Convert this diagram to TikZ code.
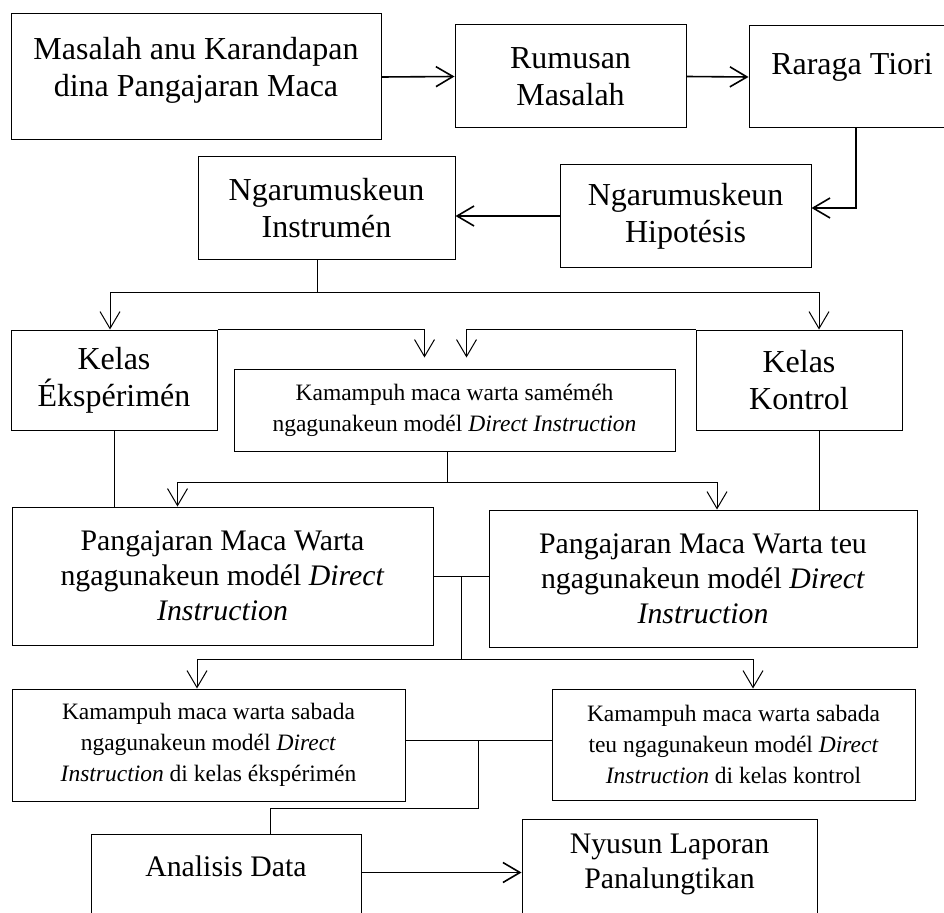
\documentclass[tikz,border=0pt]{standalone}
\usepackage{fontspec}
\setmainfont{Liberation Serif}
\usetikzlibrary{arrows.meta,calc}

\newcommand{\hurufgede}{\fontsize{32}{37}\selectfont}
\newcommand{\hurufsedeng}{\fontsize{29.8}{35}\selectfont}
\newcommand{\hurufleutik}{\fontsize{23.5}{31}\selectfont}

\tikzset{
    kotak/.style={draw, line width=1pt, inner sep=0pt, align=center},
    teks/.style={inner sep=0pt, align=center},
    garis/.style={line width=1pt},
    panah/.style={line width=1pt, -{Straight Barb[length=17pt,width=20pt,line width=1pt]}},
    panahgede/.style={line width=1.6pt, -{Straight Barb[length=17pt,width=20pt,line width=1.6pt]}},
}

\begin{document}
\begin{tikzpicture}[x=1pt, y=-1pt]
    \useasboundingbox (0,0) rectangle (944,912);
    %
    % baris kahiji
    \node[kotak, minimum width=370pt, minimum height=126pt] (masalah) at (196,77) {};
    \node[teks, font=\hurufgede] (masalahteks) at ([yshift=7pt]masalah.center) {Masalah anu Karandapan\\dina Pangajaran Maca};
    \node[kotak, font=\hurufgede, minimum width=231pt, minimum height=103pt] (rumusan) at (570.5,76.5) {Rumusan\\Masalah};
    \node[kotak, minimum width=206pt, minimum height=102pt] (tiori) at (852,77) {};
    \node[teks, font=\hurufgede] (tioriteks) at ([yshift=10pt]tiori.center) {Raraga Tiori};
    %
    % baris kadua
    \node[kotak, font=\hurufgede, minimum width=257pt, minimum height=102pt] (instrumen) at (326.5,208) {Ngarumuskeun\\Instrumén};
    \node[kotak, font=\hurufgede, minimum width=251pt, minimum height=102pt] (hipotesis) at (685.5,216) {Ngarumuskeun\\Hipotésis};
    %
    % kelas
    \node[kotak, font=\hurufgede, minimum width=206pt, minimum height=100pt] (kelasE) at (114,380) {Kelas\\Ékspérimén};
    \node[kotak, font=\hurufgede, minimum width=206pt, minimum height=100pt] (kelasK) at (799,380) {Kelas\\Kontrol};
    \node[kotak, font=\hurufleutik, minimum width=441pt, minimum height=82pt] (samemeh) at (454.5,410) {Kamampuh maca warta saméméh\\ngagunakeun modél \textit{Direct Instruction}};
    %
    % pangajaran
    \node[kotak, font=\hurufsedeng, minimum width=421pt, minimum height=138pt] (ajarE) at (222.5,576) {Pangajaran Maca Warta\\ngagunakeun modél \textit{Direct}\\\textit{Instruction}};
    \node[kotak, font=\hurufsedeng, minimum width=428pt, minimum height=137pt] (ajarK) at (703,578.5) {Pangajaran Maca Warta teu\\ngagunakeun modél \textit{Direct}\\\textit{Instruction}};
    %
    % sabada
    \node[kotak, font=\hurufleutik, minimum width=393pt, minimum height=112pt] (sabadaE) at (208.5,745) {Kamampuh maca warta sabada\\ngagunakeun modél \textit{Direct}\\\textit{Instruction} di kelas ékspérimén};
    \node[kotak, font=\hurufleutik, minimum width=363pt, minimum height=111pt] (sabadaK) at (733.5,744.5) {Kamampuh maca warta sabada\\teu ngagunakeun modél \textit{Direct}\\\textit{Instruction} di kelas kontrol};
    %
    % baris panungtung
    \node[kotak, minimum width=270pt, minimum height=126pt] (analisis) at (226,897) {};
    \node[teks, font=\hurufsedeng] (analisisteks) at ([yshift=-33pt]analisis.north) {Analisis Data};
    \node[kotak, minimum width=295pt, minimum height=141pt] (nyusun) at (669.5,889.5) {};
    \node[teks, font=\hurufsedeng] (nyusunteks) at ([yshift=-46pt]nyusun.north) {Nyusun Laporan\\Panalungtikan};
    %
    \draw[panahgede] (masalah.east) -- (rumusan.west);
    \draw[panahgede] (rumusan.east) -- (tiori.west);
    \draw[panahgede] ([xshift=4pt]tiori.south) |- ([yshift=8pt]hipotesis.east);
    \draw[panahgede] (hipotesis.west) -- (hipotesis.west -| instrumen.east);
    %
    \draw[garis] ([xshift=-9pt]instrumen.south) -- ++(0,33) coordinate (cabang1);
    \draw[panah] (cabang1) -| ([xshift=-4pt]kelasE.north);
    \draw[panah] (cabang1) -| ([xshift=20pt]kelasK.north);
    \draw[panah] (kelasE.north east) -| ([xshift=-30pt,yshift=11pt]samemeh.north);
    \draw[panah] (kelasK.north west) -| ([xshift=12pt,yshift=11pt]samemeh.north);
    %
    \draw[garis] ([xshift=-7pt]samemeh.south) -- ++(0,31) coordinate (cabang2);
    \draw[panah] (cabang2) -| ([xshift=-45pt]ajarE.north);
    \draw[panah] (cabang2) -| ([xshift=14pt]ajarK.north);
    \draw[garis] (kelasE.south) -- (kelasE.south |- ajarE.north);
    \draw[garis] ([xshift=20pt]kelasK.south) -- ([xshift=20pt]kelasK.south |- ajarK.north);
    %
    \draw[garis] (ajarE.east) -- (ajarE.east -| ajarK.west);
    \draw[garis] ($(ajarE.east)!0.5!(ajarE.east -| ajarK.west)$) -- ++(0,83) coordinate (cabang3);
    \draw[panah] (cabang3) -| ([xshift=-11.5pt]sabadaE.north);
    \draw[panah] (cabang3) -| ([xshift=19.5pt]sabadaK.north);
    %
    \draw[garis] ([yshift=5pt]sabadaE.east) -- ([yshift=5pt]sabadaE.east -| sabadaK.west);
    \draw[garis] ($([yshift=5pt]sabadaE.east)!0.5!([yshift=5pt]sabadaE.east -| sabadaK.west)$) -- ++(0,68) -| ([xshift=44pt]analisis.north);
    \draw[panahgede] ([yshift=-6pt]analisisteks.east -| analisis.east) -- ([yshift=-6pt]analisisteks.east -| nyusun.west);
\end{tikzpicture}
\end{document}
